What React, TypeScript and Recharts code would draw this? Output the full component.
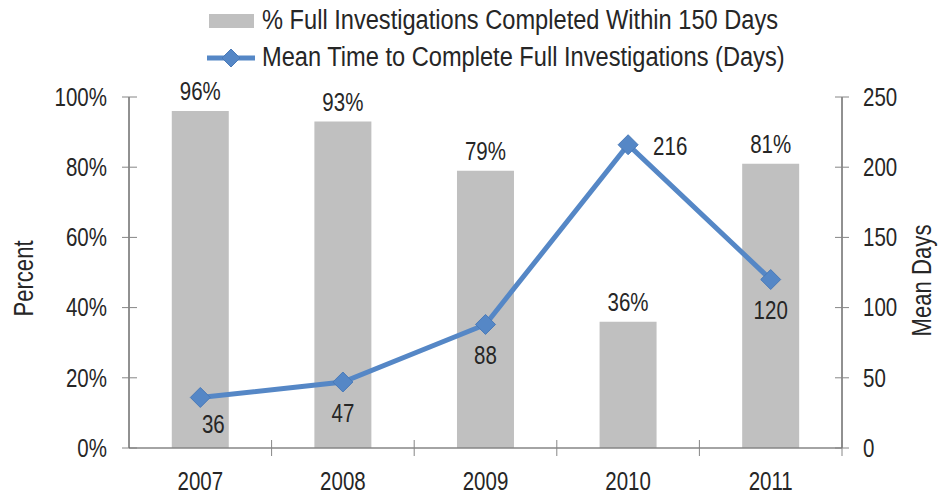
import { ComposedChart, Bar, Line, XAxis, YAxis, LabelList, Legend } from 'recharts'

const years = ['2007', '2008', '2009', '2010', '2011']
const pctCompleted = [96, 93, 79, 36, 81]
const meanDays = [36, 47, 88, 216, 120]
const pctTicks = [0, 20, 40, 60, 80, 100]
const dayTicks = [0, 50, 100, 150, 200, 250]
const meanLabelPlacement = ['belowRight', 'below', 'below', 'right', 'below']

// no narrow font installed, so squeeze Liberation Sans horizontally
const FONT = "'Liberation Sans', Arial, sans-serif"
const SQUEEZE = 0.82
const LEGEND_SQUEEZE = 0.875
const TEXT = '#262626'
const BAR = '#c0c0c0'
const LINE = '#5587c6'
const TICK = '#868686'

const W = 946
const H = 496
const PLOT_LEFT = 129
const PLOT_RIGHT = 842
const STEP = (PLOT_RIGHT - PLOT_LEFT) / years.length

const data = years.map((year, i) => ({ year, pct: pctCompleted[i], days: meanDays[i] }))

function NarrowText({ x, y, anchor = 'middle', baseline = 'central', size = 25, rotate = 0, children }: any) {
  const rot = rotate ? ` rotate(${rotate})` : ''
  return (
    <text
      x={0}
      y={0}
      transform={`translate(${x} ${y})${rot} scale(${SQUEEZE} 1)`}
      textAnchor={anchor}
      dominantBaseline={baseline}
      fill={TEXT}
      fontFamily={FONT}
      fontSize={size}
    >
      {children}
    </text>
  )
}

function XTick({ x, y, payload }: any) {
  const bx = x + STEP / 2
  return (
    <g>
      <line x1={bx} x2={bx} y1={y - 8} y2={y + 8} stroke={TICK} />
      <NarrowText x={x} y={y + 42} baseline="auto">{payload.value}</NarrowText>
    </g>
  )
}

function LeftTick({ x, y, payload }: any) {
  return (
    <g>
      <line x1={x - 7} x2={x + 8} y1={y} y2={y} stroke={TICK} />
      <NarrowText x={x - 22} y={y} anchor="end">{payload.value + '%'}</NarrowText>
    </g>
  )
}

function RightTick({ x, y, payload }: any) {
  return (
    <g>
      <line x1={x - 7} x2={x + 7} y1={y} y2={y} stroke={TICK} />
      <NarrowText x={x + 21} y={y} anchor="start">{payload.value}</NarrowText>
    </g>
  )
}

function Diamond({ cx, cy, index }: any) {
  const r = 10
  return (
    <path
      key={'d' + index}
      d={`M${cx},${cy - r}L${cx + r},${cy}L${cx},${cy + r}L${cx - r},${cy}Z`}
      fill={LINE}
      stroke="#4a7ab8"
      strokeWidth={1}
    />
  )
}

function BarLabel({ x, y, width, value }: any) {
  return (
    <NarrowText x={x + width / 2} y={y - 11} baseline="auto">
      {value + '%'}
    </NarrowText>
  )
}

function MeanLabel({ x, y, value, index }: any) {
  const place = meanLabelPlacement[index]
  let dx = 0
  let dy = 31
  let anchor = 'middle'
  if (place === 'right') {
    dx = 25
    dy = 2
    anchor = 'start'
  } else if (place === 'belowRight') {
    dx = 13
    dy = 27
  }
  return (
    <NarrowText x={x + dx} y={y + dy} anchor={anchor}>
      {value}
    </NarrowText>
  )
}

function LegendBox() {
  const row = { display: 'flex', alignItems: 'center', height: 37 }
  const label = {
    fontFamily: FONT,
    fontSize: 27,
    color: TEXT,
    marginLeft: 7,
    whiteSpace: 'nowrap' as const,
    display: 'inline-block',
    transform: `scaleX(${LEGEND_SQUEEZE})`,
    transformOrigin: 'left center',
  }
  return (
    <div style={{ width: W, height: 76, paddingLeft: 207, paddingTop: 2, boxSizing: 'border-box' }}>
      <div style={row}>
        <svg width={48} height={20}>
          <rect x={2} y={3} width={45} height={14} fill={BAR} />
        </svg>
        <span style={label}>% Full Investigations Completed Within 150 Days</span>
      </div>
      <div style={row}>
        <svg width={48} height={20}>
          <line x1={0} x2={48} y1={10} y2={10} stroke={LINE} strokeWidth={5} />
          <path d="M24,1L33,10L24,19L15,10Z" fill={LINE} stroke="#4a7ab8" />
        </svg>
        <span style={label}>Mean Time to Complete Full Investigations (Days)</span>
      </div>
    </div>
  )
}

export default function App() {
  return (
    <div style={{ position: 'absolute', left: 0, top: 0, background: '#fff' }}>
      <ComposedChart
        width={W}
        height={H}
        data={data}
        margin={{ top: 21, right: 0, bottom: 0, left: 0 }}
        barCategoryGap="30%"
      >
        <Legend verticalAlign="top" align="left" wrapperStyle={{ left: 0, top: 0 }} content={() => <LegendBox />} />
        <XAxis
          dataKey="year"
          height={48}
          interval={0}
          tickSize={0}
          tickMargin={0}
          tickLine={false}
          axisLine={{ stroke: TICK, strokeWidth: 1.5 }}
          tick={<XTick />}
        />
        <YAxis
          yAxisId="left"
          domain={[0, 100]}
          ticks={pctTicks}
          width={PLOT_LEFT}
          tickSize={0}
          tickMargin={0}
          tickLine={false}
          axisLine={{ stroke: '#222', strokeWidth: 1 }}
          tick={<LeftTick />}
          label={({ viewBox }: any) => (
            <NarrowText x={viewBox.x + 24} y={viewBox.y + viewBox.height / 2 + 6} rotate={-90} size={27}>
              Percent
            </NarrowText>
          )}
        />
        <YAxis
          yAxisId="right"
          orientation="right"
          domain={[0, 250]}
          ticks={dayTicks}
          width={W - PLOT_RIGHT}
          tickSize={0}
          tickMargin={0}
          tickLine={false}
          axisLine={{ stroke: '#222', strokeWidth: 1 }}
          tick={<RightTick />}
          label={({ viewBox }: any) => (
            <NarrowText x={viewBox.x + 80} y={viewBox.y + viewBox.height / 2 + 8} rotate={-90} size={27}>
              Mean  Days
            </NarrowText>
          )}
        />
        <Bar yAxisId="left" dataKey="pct" fill={BAR} isAnimationActive={false}>
          <LabelList dataKey="pct" content={<BarLabel />} />
        </Bar>
        <Line
          yAxisId="right"
          dataKey="days"
          stroke={LINE}
          strokeWidth={5}
          dot={<Diamond />}
          activeDot={false}
          isAnimationActive={false}
        >
          <LabelList dataKey="days" content={<MeanLabel />} />
        </Line>
      </ComposedChart>
    </div>
  )
}
